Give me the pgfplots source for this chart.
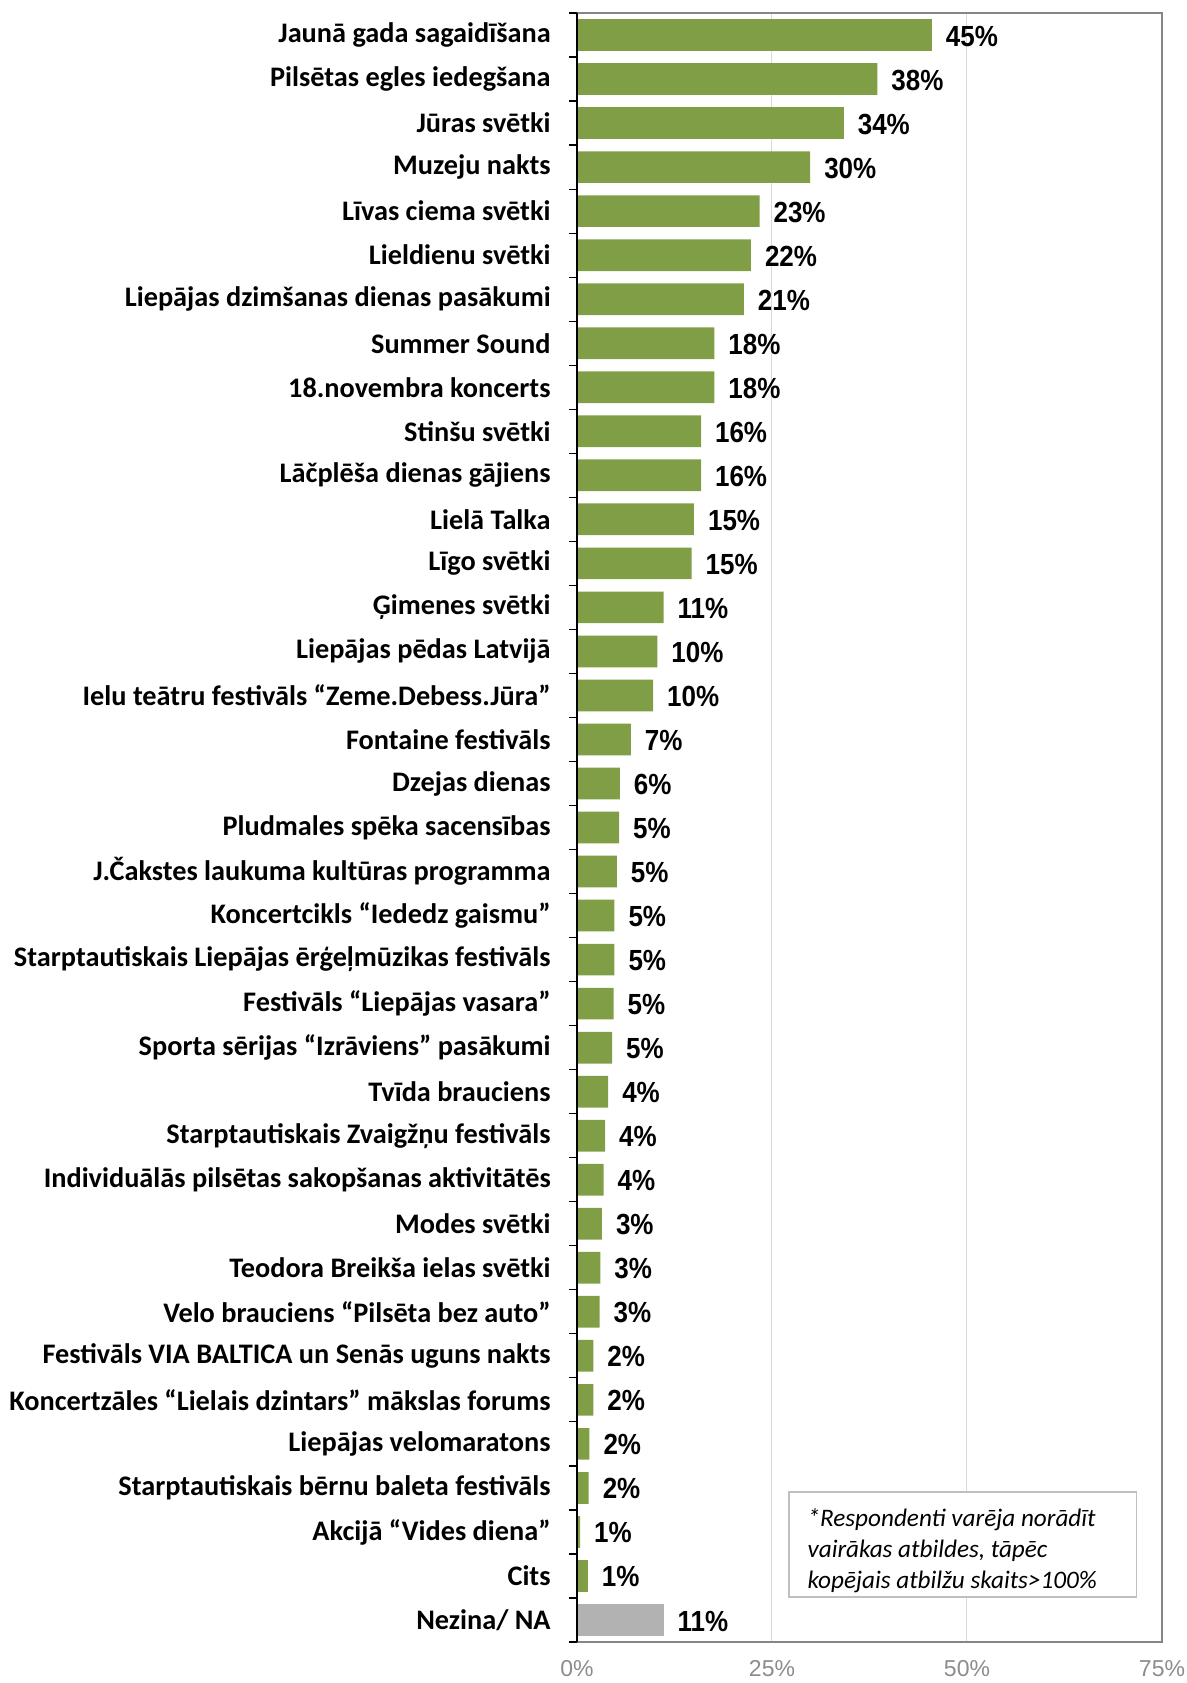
\documentclass[border=0pt]{standalone}
\usepackage{pgfplots}
\pgfplotsset{compat=1.18}
\usepackage{graphicx}
\usepackage{fontspec}
\setmainfont{Carlito}
\newfontfamily\arialfont{Liberation Sans}
\definecolor{bargreen}{RGB}{128,158,70}
\definecolor{bargray}{RGB}{178,178,178}
\definecolor{framegray}{RGB}{134,134,134}
\definecolor{gridgray}{RGB}{217,217,217}
\definecolor{tickgray}{RGB}{140,140,140}
\definecolor{notegray}{RGB}{191,191,191}
\begin{document}
\begin{tikzpicture}
\path[use as bounding box] (0,0) rectangle (593.5pt,841.5pt);
\begin{axis}[
  at={(288.5pt,20.5pt)}, anchor=south west,
  scale only axis, width=292.5pt, height=814.5pt,
  xbar, bar width=0.72,
  xmin=0, xmax=75, ymin=-0.5, ymax=36.5, y dir=reverse,
  xtick={0,25,50,75}, xticklabels={0\%,25\%,50\%,75\%},
  xticklabel style={font=\arialfont\fontsize{11.5pt}{13pt}\selectfont, text=tickgray, yshift=-5.5pt},
  xmajorgrids, grid style={gridgray, line width=0.5pt},
  major x tick style={draw=none},
  major y tick style={draw=none},
  tick align=inside,
  major tick length=4pt,
  tick pos=left,
  ytick={0,...,36},
  yticklabels={
    Jaunā gada sagaidīšana,
    Pilsētas egles iedegšana,
    Jūras svētki,
    Muzeju nakts,
    Līvas ciema svētki,
    Lieldienu svētki,
    Liepājas dzimšanas dienas pasākumi\hspace{3pt},
    Summer Sound,
    18.novembra koncerts,
    Stinšu svētki,
    Lāčplēša dienas gājiens,
    Lielā Talka,
    Līgo svētki,
    Ģimenes svētki,
    Liepājas pēdas Latvijā,
    Ielu teātru festivāls “Zeme.Debess.Jūra”,
    Fontaine festivāls,
    Dzejas dienas,
    Pludmales spēka sacensības,
    J.Čakstes laukuma kultūras programma,
    Koncertcikls “Iededz gaismu”,
    Starptautiskais Liepājas ērģeļmūzikas festivāls,
    Festivāls “Liepājas vasara”,
    Sporta sērijas “Izrāviens” pasākumi,
    Tvīda brauciens,
    Starptautiskais Zvaigžņu festivāls,
    Individuālās pilsētas sakopšanas aktivitātēs,
    Modes svētki,
    Teodora Breikša ielas svētki,
    Velo brauciens “Pilsēta bez auto”,
    Festivāls VIA BALTICA un Senās uguns nakts,
    Koncertzāles “Lielais dzintars” mākslas forums,
    Liepājas velomaratons,
    Starptautiskais bērnu baleta festivāls,
    Akcijā “Vides diena”,
    Cits,
    Nezina/ NA},
  yticklabel style={font=\bfseries\fontsize{14.15pt}{16pt}\selectfont, anchor=east, inner xsep=0pt, xshift=-13pt},
  extra y ticks={-0.5,0.5,...,36.5}, extra y tick labels={},
  extra y tick style={tick align=outside, major y tick style={draw=black, line width=0.6pt}},
  axis line style={framegray, line width=1.25pt},
  point meta=explicit symbolic,
  nodes near coords={\scalebox{1}[1.12]{\pgfplotspointmeta\%}},
  nodes near coords style={font=\arialfont\bfseries\fontsize{13pt}{15pt}\selectfont, anchor=west, xshift=3.5pt, yshift=-0.5pt, text=black},
  clip=false,
]
\addplot[bar shift=0pt, fill=bargreen, draw=none] coordinates {
  (45.5,0) [45]
  (38.5,1) [38]
  (34.2,2) [34]
  (29.9,3) [30]
  (23.4,4) [23]
  (22.3,5) [22]
  (21.4,6) [21]
  (17.6,7) [18]
  (17.6,8) [18]
  (15.9,9) [16]
  (15.9,10) [16]
  (15.0,11) [15]
  (14.7,12) [15]
  (11.1,13) [11]
  (10.3,14) [10]
  (9.75,15) [10]
  (6.9,16) [7]
  (5.5,17) [6]
  (5.4,18) [5]
  (5.1,19) [5]
  (4.8,20) [5]
  (4.8,21) [5]
  (4.7,22) [5]
  (4.5,23) [5]
  (4.0,24) [4]
  (3.6,25) [4]
  (3.4,26) [4]
  (3.2,27) [3]
  (3.0,28) [3]
  (2.9,29) [3]
  (2.1,30) [2]
  (2.1,31) [2]
  (1.6,32) [2]
  (1.5,33) [2]
  (0.4,34) [1]
  (1.4,35) [1]
};
\addplot[bar shift=0pt, fill=bargray, draw=none] coordinates {
  (11.1,36) [11]
};
\draw[black, line width=0.75pt] (rel axis cs:0,0) -- (rel axis cs:0,1);
\draw[notegray, line width=0.75pt, fill=white] (axis cs:27.2,33.09) rectangle (axis cs:71.7,35.48);
\node[anchor=north west, inner sep=0pt, align=left,
      font=\itshape\fontsize{12.6pt}{15.5pt}\selectfont]
  at ([xshift=9pt,yshift=-8.3pt]axis cs:27.2,33.09) {*Respondenti varēja norādīt\\vairākas atbildes, tāpēc\\kopējais atbilžu skaits>100\%};
\end{axis}
\end{tikzpicture}
\end{document}
